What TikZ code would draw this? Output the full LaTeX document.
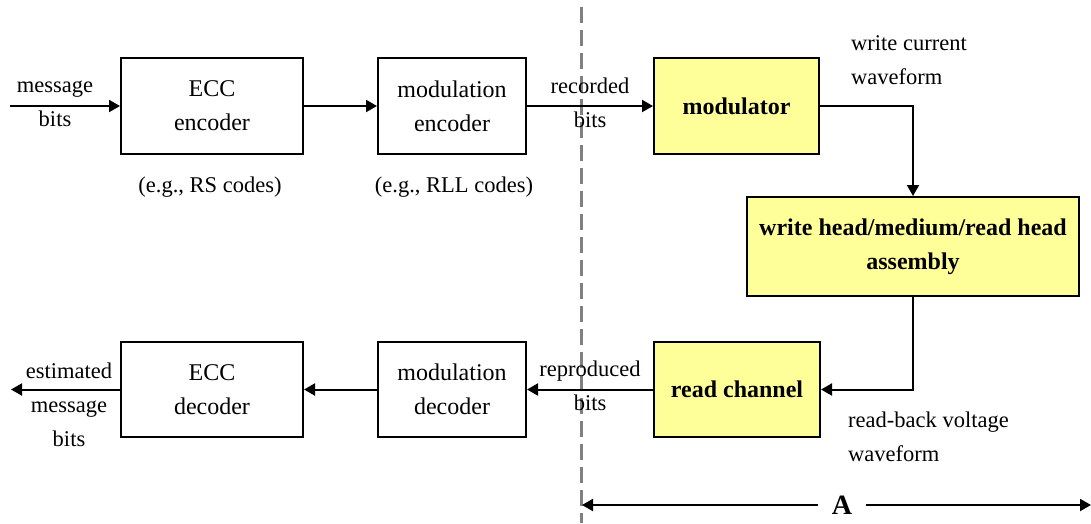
\documentclass[tikz,border=0pt]{standalone}
\usepackage{fontspec}
\setmainfont{Liberation Serif}
\usetikzlibrary{arrows.meta}
\definecolor{boxyellow}{RGB}{255,255,153}
\definecolor{splitgray}{RGB}{128,128,128}
\tikzset{
  blockbox/.style={draw=black, line width=2pt, inner sep=0pt, align=center,
    font=\fontsize{24}{34}\selectfont},
  hwbox/.style={blockbox, fill=boxyellow, font=\fontsize{24}{34}\selectfont\bfseries},
  sig/.style={line width=2pt, -{Triangle[length=11pt,width=12pt]}},
  lbl/.style={inner sep=0pt, align=center, font=\fontsize{22.5}{34}\selectfont},
  lbll/.style={lbl, align=left, anchor=west},
  splitline/.style={draw=splitgray, line width=3pt, dash pattern=on 16pt off 7pt}
}
\begin{document}
\begin{tikzpicture}[x=1pt,y=-1pt]
\useasboundingbox (0,0) rectangle (1091,523);

% boundary between coding and channel parts
\coordinate (splittop) at (581,7);
\coordinate (splitbot) at (581,523);
\draw[splitline] (splittop) -- (splitbot);

% write path
\node[blockbox, minimum width=182pt, minimum height=96pt] (ecce) at (212,106) {ECC\\encoder};
\node[blockbox, minimum width=148pt, minimum height=96pt] (mode) at (452,106) {modulation\\encoder};
\node[hwbox, minimum width=165pt, minimum height=96pt] (modr) at (736.5,106) {modulator};
\node[hwbox, minimum width=332pt, minimum height=99pt] (whd) at (913,246.5) {write head/medium/read head\\assembly};

% read path
\node[hwbox, minimum width=166pt, minimum height=95pt] (rch) at (737,389.5) {read channel};
\node[blockbox, minimum width=148pt, minimum height=95pt] (modd) at (452,389.5) {modulation\\decoder};
\node[blockbox, minimum width=182pt, minimum height=95pt] (eccd) at (212,389.5) {ECC\\decoder};

% free ends of the outer connectors
\coordinate (msgin) at (10,106);
\coordinate (msgout) at (11,389.5);

% connectors
\draw[sig] (msgin) -- (ecce.west);
\draw[sig] (ecce.east) -- (mode.west);
\draw[sig] (mode.east) -- (modr.west);
\draw[sig] (modr.east) -| (whd.north);
\draw[sig] (whd.south) |- (rch.east);
\draw[sig] (rch.west) -- (modd.east);
\draw[sig] (modd.west) -- (eccd.east);
\draw[sig] (eccd.west) -- (msgout);

% signal labels
\node[lbl] (lmsg) at (55,104) {message\\bits};
\node[lbl] (lrs) at (210,187) {(e.g., RS codes)};
\node[lbl] (lrll) at (454,187) {(e.g., RLL codes)};
\node[lbl] (lrec) at (590,103) {recorded\\bits};
\node[lbll] (lwcw) at (851,60) {write current\\waveform};
\node[lbll] (lrbv) at (848,437) {read-back voltage\\waveform};
\node[lbl] (lrep) at (590,386) {reproduced\\bits};
\node[lbl] (lest) at (69,405) {estimated\\message\\bits};

% extent of part A
\coordinate (aleft) at (582,505);
\coordinate (aright) at (1091,505);
\node[inner xsep=14pt, inner ysep=2pt, font=\fontsize{28}{30}\selectfont\bfseries] (adim) at (842,505) {A};
\draw[sig] (adim) -- (aleft);
\draw[sig] (adim) -- (aright);
\end{tikzpicture}
\end{document}
